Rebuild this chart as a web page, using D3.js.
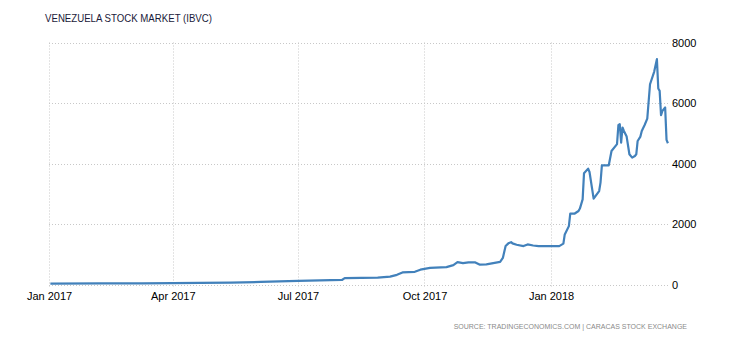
<!DOCTYPE html>
<html>
<head>
<meta charset="utf-8">
<script src="https://cdn.jsdelivr.net/npm/d3@7"></script>
<style>
  body { margin: 0; background: #fff; }
  svg { display: block; }
</style>
</head>
<body>
<svg id="chart" width="730" height="340"></svg>
<script>
const title = "VENEZUELA STOCK MARKET (IBVC)";
const source = "SOURCE: TRADINGECONOMICS.COM | CARACAS STOCK EXCHANGE";

const dates = [
  "2017-01-02","2017-02-08","2017-03-09","2017-04-01","2017-04-21","2017-05-13","2017-06-04",
  "2017-07-01","2017-07-17","2017-08-02","2017-08-04","2017-08-28","2017-09-06","2017-09-11",
  "2017-09-15","2017-09-24","2017-09-28","2017-10-05","2017-10-17","2017-10-22","2017-10-25",
  "2017-10-29","2017-11-02","2017-11-07","2017-11-10","2017-11-15","2017-11-21","2017-11-25",
  "2017-11-27","2017-11-29","2017-12-01","2017-12-03","2017-12-04","2017-12-07","2017-12-12",
  "2017-12-15","2017-12-19","2017-12-23","2018-01-07","2018-01-10","2018-01-11","2018-01-14",
  "2018-01-15","2018-01-18","2018-01-21","2018-01-22","2018-01-24","2018-01-25","2018-01-28",
  "2018-01-29","2018-02-01","2018-02-05","2018-02-06","2018-02-07","2018-02-12","2018-02-14",
  "2018-02-18","2018-02-19","2018-02-20","2018-02-21","2018-02-22","2018-02-23","2018-02-25",
  "2018-02-27","2018-03-01","2018-03-03","2018-03-04","2018-03-05","2018-03-07","2018-03-08",
  "2018-03-10","2018-03-12","2018-03-14","2018-03-17","2018-03-19","2018-03-20","2018-03-21",
  "2018-03-22","2018-03-23","2018-03-25","2018-03-26","2018-03-27"
];
const values = [
  30, 35, 38, 45, 55, 65, 85,
  120, 135, 150, 210, 225, 260, 320,
  400, 420, 490, 550, 575, 640, 740,
  705, 730, 730, 660, 665, 715, 750,
  880, 1270, 1360, 1400, 1360, 1315, 1270,
  1325, 1290, 1270, 1270, 1350, 1655, 1930,
  2340, 2340, 2430, 2510, 2815, 3675, 3830,
  3720, 2840, 3090, 3370, 3940, 3940, 4415,
  4640, 5265, 5300, 4690, 5190, 5075, 4890,
  4305, 4195, 4250, 4305, 4745, 4890, 5075,
  5265, 5485, 6620, 7030, 7450, 6480, 6400,
  5600, 5740, 5850, 4780, 4670
];
const xTickDates = ["2017-01-01","2017-04-01","2017-07-01","2017-10-01","2018-01-01"];
const xTickLabels = ["Jan 2017","Apr 2017","Jul 2017","Oct 2017","Jan 2018"];
const yTicks = [0, 2000, 4000, 6000, 8000];

const parse = d3.utcParse("%Y-%m-%d");
const data = dates.map((d, i) => ({ date: parse(d), value: values[i] }));

const svg = d3.select("#chart");
const mLeft = 49, mRight = 668, mTop = 42.5, mBottom = 284.5;

const x = d3.scaleUtc()
  .domain([parse("2017-01-01"), parse("2018-01-01")])
  .range([mLeft, 551]);
const y = d3.scaleLinear().domain([0, 8000]).range([mBottom, mTop]);

const grid = svg.append("g").attr("stroke", "#c8c8c8").attr("stroke-width", 1)
  .attr("stroke-dasharray", "1,2").attr("fill", "none");

yTicks.forEach(t => {
  grid.append("line")
    .attr("x1", mLeft).attr("x2", mRight)
    .attr("y1", Math.round(y(t)) + 0.5).attr("y2", Math.round(y(t)) + 0.5);
});
xTickDates.forEach(d => {
  const xx = Math.round(x(parse(d))) + 0.5;
  grid.append("line")
    .attr("x1", xx).attr("x2", xx)
    .attr("y1", mTop).attr("y2", mBottom + 3);
});

// x axis labels
const xAxis = d3.axisBottom(x)
  .tickValues(xTickDates.map(parse))
  .tickFormat((d, i) => xTickLabels[i])
  .tickSize(0).tickPadding(7);
const gx = svg.append("g").attr("transform", `translate(0,${mBottom + 1})`).call(xAxis);
gx.select(".domain").remove();
gx.selectAll("text").attr("font-family", "Liberation Sans, Arial, sans-serif")
  .attr("font-size", 11).attr("fill", "#000");

// y axis labels (right)
const yAxis = d3.axisRight(y).tickValues(yTicks).tickFormat(d3.format("d"))
  .tickSize(0).tickPadding(4);
const gy = svg.append("g").attr("transform", `translate(${mRight},0)`).call(yAxis);
gy.select(".domain").remove();
gy.selectAll("text").attr("font-family", "Liberation Sans, Arial, sans-serif")
  .attr("font-size", 11).attr("fill", "#000");

// line
const line = d3.line().x(d => x(d.date)).y(d => y(d.value));
svg.append("path").datum(data)
  .attr("fill", "none")
  .attr("stroke", "#4281bb")
  .attr("stroke-width", 2.2)
  .attr("stroke-linejoin", "round")
  .attr("d", line);

// title
svg.append("text").attr("x", 45).attr("y", 22)
  .attr("font-family", "Liberation Sans, Arial, sans-serif")
  .attr("font-size", 11.5).attr("fill", "#1a1a3a")
  .attr("textLength", 167).attr("lengthAdjust", "spacingAndGlyphs")
  .text(title);

// source
svg.append("text").attr("x", 687).attr("y", 329)
  .attr("text-anchor", "end")
  .attr("font-family", "Liberation Sans, Arial, sans-serif")
  .attr("font-size", 7).attr("fill", "#8a8a8a")
  .text(source);
</script>
</body>
</html>
